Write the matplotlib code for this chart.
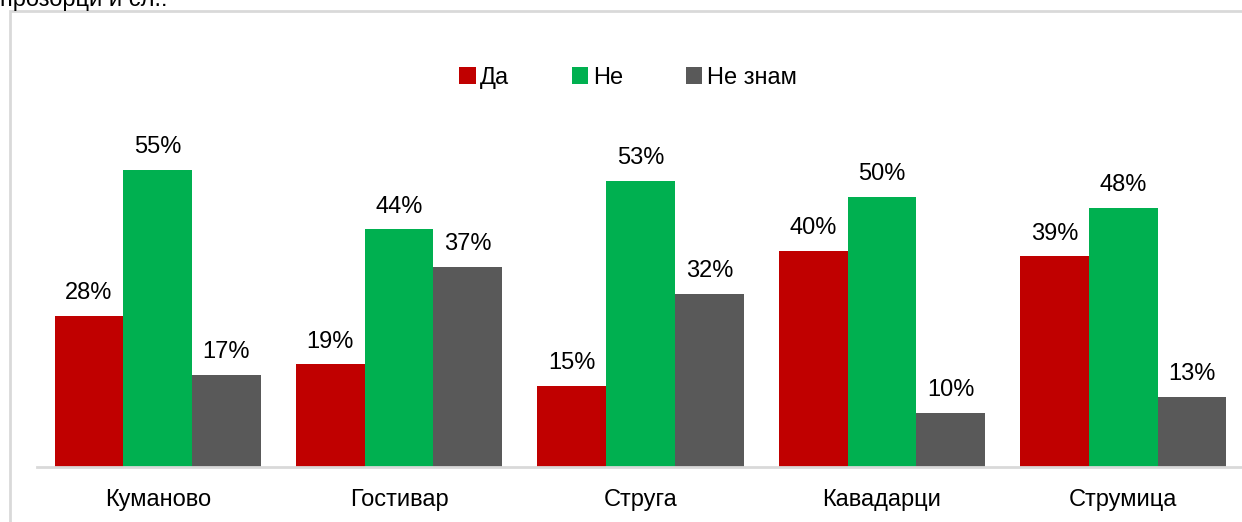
import matplotlib.pyplot as plt
import numpy as np
from matplotlib.patches import Rectangle

plt.rcParams['font.family'] = ['Liberation Sans', 'DejaVu Sans']

cities = ['Куманово', 'Гостивар', 'Струга', 'Кавадарци', 'Струмица']
da = [28, 19, 15, 40, 39]
ne = [55, 44, 53, 50, 48]
ne_znam = [17, 37, 32, 10, 13]
series = [('Да', da, '#c00000'), ('Не', ne, '#00b050'), ('Не знам', ne_znam, '#595959')]

fig = plt.figure(figsize=(12.42, 5.22), dpi=100)
# light frame around the chart area
fig.patches.append(Rectangle((10 / 1242, -0.1), 1.1, (511 + 52) / 522,
                             transform=fig.transFigure, fill=False,
                             edgecolor='#d9d9d9', linewidth=2))
# caption of the question, cut off at the top as in the source
fig.text(0.0, 1.0, 'прозорци и сл.:', fontsize=17, va='center', ha='left')

ax = fig.add_axes([37 / 1242, 55 / 522, 1207 / 1242, 417 / 522])
x = np.arange(len(cities))
w = 0.285
for i, (name, vals, col) in enumerate(series):
    pos = x + (i - 1) * w
    ax.bar(pos, vals, width=w, color=col, label=name)
    for p, v in zip(pos, vals):
        ax.annotate(f'{v}%', (p, v), xytext=(0, 8.5), textcoords='offset points',
                    ha='center', va='bottom', fontsize=17)

ax.set_xlim(-0.5, 4.5)
ax.set_ylim(0, 77.2)
ax.set_yticks([])
ax.set_xticks(x)
ax.set_xticklabels(cities, fontsize=17)
ax.tick_params(axis='x', length=0, pad=16)
for s in ['top', 'right', 'left']:
    ax.spines[s].set_visible(False)
ax.spines['bottom'].set_color('#d9d9d9')
ax.spines['bottom'].set_linewidth(2)

ax.legend(loc='center', bbox_to_anchor=(628 / 1242, 1 - 78 / 522),
          bbox_transform=fig.transFigure, ncol=3, frameon=False, fontsize=17,
          handlelength=0.7, handleheight=0.7, handletextpad=0.2, columnspacing=2.65)

plt.savefig('out.png', dpi=100)
